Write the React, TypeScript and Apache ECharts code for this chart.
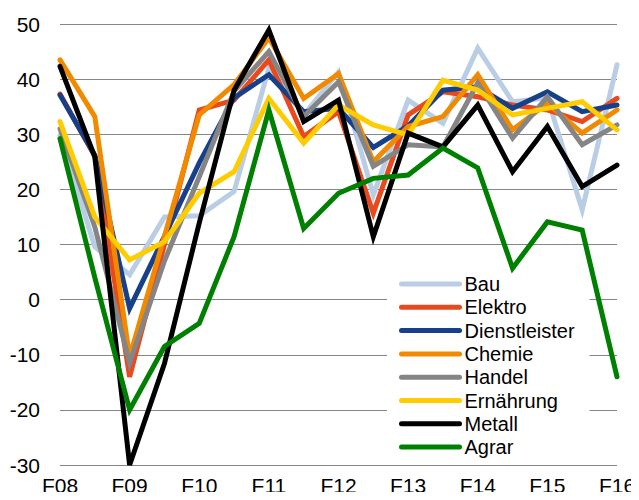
import React, { useEffect, useRef } from "react";
import * as echarts from "echarts";

const categories = ["F08","H08","F09","H09","F10","H10","F11","H11","F12","H12","F13","H13","F14","H14","F15","H15","F16"];
const seriesNames = ["Bau","Elektro","Dienstleister","Chemie","Handel","Ernährung","Metall","Agrar"];
const seriesColors = ["#B9CDE5","#E8491D","#17408B","#F28A00","#858585","#FFCC00","#000000","#008000"];

const bau = [29.8, 9.6, 4.5, 15.0, 15.2, 19.6, 42.0, 33.5, 41.3, 19.0, 36.2, 32.0, 45.6, 35.9, 36.6, 16.3, 42.6];
const elektro = [37.3, 26.0, -14.0, 10.0, 34.4, 36.2, 43.5, 29.6, 34.1, 15.7, 33.5, 37.7, 36.8, 35.3, 34.4, 32.3, 36.5];
const dienstleister = [37.1, 26.2, -1.6, 11.5, 24.8, 36.6, 40.8, 34.1, 34.7, 27.6, 31.5, 38.0, 38.6, 34.7, 37.7, 34.1, 35.3];
const chemie = [43.5, 33.2, -10.4, 11.5, 33.5, 39.0, 47.5, 36.5, 41.0, 25.0, 31.4, 33.2, 40.8, 30.8, 35.6, 30.2, 34.4];
const handel = [31.0, 13.2, -11.5, 7.0, 22.3, 37.8, 45.0, 33.2, 39.5, 24.2, 28.1, 27.7, 39.3, 29.3, 36.8, 28.1, 31.7];
const ernaehrung = [32.3, 15.0, 7.2, 10.5, 19.3, 23.2, 36.5, 28.4, 35.3, 31.7, 29.9, 39.8, 38.0, 33.5, 34.7, 35.9, 30.8];
const metall = [42.3, 25.9, -30.0, -11.6, 13.9, 38.0, 48.9, 32.3, 36.2, 11.4, 30.2, 27.7, 35.3, 23.2, 31.4, 20.5, 24.4];
const agrar = [29.2, 4.0, -20.0, -8.5, -4.3, 11.4, 34.4, 12.9, 19.3, 22.0, 22.6, 27.5, 23.9, 5.7, 14.1, 12.6, -14.0];

const allData = [bau, elektro, dienstleister, chemie, handel, ernaehrung, metall, agrar];

const FONT = "'Liberation Sans', Arial, sans-serif";

export default function App() {
  const ref = useRef<HTMLDivElement>(null);
  useEffect(() => {
    if (!ref.current) return;
    const chart = echarts.init(ref.current, undefined, { renderer: "svg" });
    chart.setOption({
      animation: false,
      grid: { left: 60, right: 22, top: 24, bottom: 35, containLabel: false },
      legend: {
        orient: "vertical",
        left: 387,
        top: 273,
        backgroundColor: "#ffffff",
        padding: [1, 15, 1, 12],
        itemWidth: 58,
        itemHeight: 14,
        itemGap: 3.3,
        data: seriesNames,
        textStyle: { fontFamily: FONT, fontSize: 20, color: "#000", lineHeight: 20, padding: [0, 0, 0, 0] },
        itemStyle: { opacity: 0 },
        lineStyle: { width: 5, cap: "round" },
      },
      xAxis: {
        type: "category",
        data: categories,
        boundaryGap: false,
        axisLine: { show: false },
        axisTick: { show: false },
        axisLabel: { interval: 1, fontFamily: FONT, fontSize: 21, color: "#000", margin: 10 },
        splitLine: { show: false },
      },
      yAxis: {
        type: "value",
        min: -30,
        max: 50,
        interval: 10,
        axisLine: { show: false },
        axisTick: { show: false },
        axisLabel: { fontFamily: FONT, fontSize: 21, color: "#000", margin: 20 },
        splitLine: { lineStyle: { color: "#868686", width: 1 } },
      },
      series: seriesNames.map((name, i) => ({
        name,
        type: "line",
        data: allData[i],
        symbol: "none",
        showSymbol: false,
        lineStyle: { color: seriesColors[i], width: 5, cap: "round", join: "miter" },
        itemStyle: { color: seriesColors[i] },
        z: 2 + i,
      })),
    });
    return () => chart.dispose();
  }, []);
  return <div ref={ref} style={{ width: 639, height: 500, margin: -8 }} />;
}
